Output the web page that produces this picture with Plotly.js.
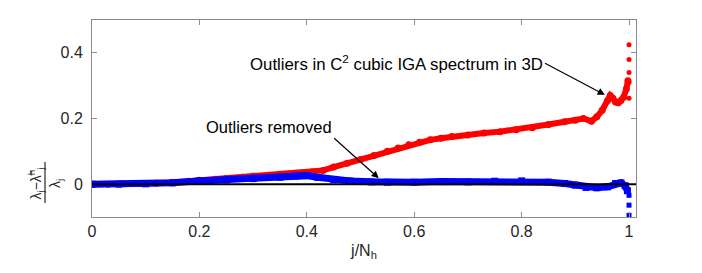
<!DOCTYPE html>
<html>
<head>
<meta charset="utf-8">
<script src="https://cdn.plot.ly/plotly-3.0.1.min.js"></script>
<style>html,body{margin:0;padding:0;background:#fff;}#chart{width:702px;height:273px;}</style>
</head>
<body>
<div id="chart"></div>
<script>
// Red: relative eigenvalue error with outliers (C2 cubic IGA, 3D)
const redX = [0, 0.03, 0.06, 0.09, 0.12, 0.15, 0.18, 0.20, 0.23, 0.25, 0.28, 0.30, 0.33, 0.35, 0.38, 0.40, 0.41, 0.43, 0.45, 0.475, 0.50, 0.525, 0.55, 0.57, 0.59, 0.61, 0.63, 0.65, 0.67, 0.70, 0.73, 0.76, 0.79, 0.82, 0.85, 0.88, 0.90, 0.915, 0.93, 0.94, 0.95, 0.96, 0.965, 0.97, 0.975, 0.98, 0.985, 0.99, 0.995, 0.998];
const redY = [0, 0.000, 0.001, 0.002, 0.003, 0.005, 0.009, 0.012, 0.015, 0.017, 0.021, 0.024, 0.027, 0.030, 0.033, 0.035, 0.037, 0.042, 0.052, 0.064, 0.075, 0.087, 0.100, 0.110, 0.120, 0.128, 0.135, 0.140, 0.145, 0.150, 0.156, 0.160, 0.166, 0.172, 0.182, 0.190, 0.195, 0.200, 0.192, 0.205, 0.225, 0.255, 0.270, 0.262, 0.250, 0.248, 0.255, 0.265, 0.290, 0.315];
const redOutX = [1.0, 1.0, 1.0, 1.0, 1.0];
const redOutY = [0.425, 0.380, 0.340, 0.310, 0.262];

// Blue: relative eigenvalue error with outliers removed
const blueX = [0, 0.05, 0.10, 0.15, 0.20, 0.25, 0.30, 0.35, 0.38, 0.40, 0.42, 0.45, 0.48, 0.52, 0.55, 0.60, 0.65, 0.70, 0.75, 0.80, 0.85, 0.88, 0.90, 0.92, 0.94, 0.96, 0.975, 0.985, 0.993, 0.997];
const blueY = [0, 0.000, 0.001, 0.004, 0.010, 0.013, 0.017, 0.021, 0.025, 0.026, 0.021, 0.014, 0.010, 0.007, 0.006, 0.006, 0.008, 0.007, 0.009, 0.010, 0.006, 0.002, -0.003, -0.010, -0.011, -0.008, 0.002, 0.004, -0.005, -0.020];
const blueOutX = [1.0, 1.0, 1.0];
const blueOutY = [-0.034, -0.064, -0.095];

const xTicks = [0, 0.2, 0.4, 0.6, 0.8, 1];
const xTickText = ['0', '0.2', '0.4', '0.6', '0.8', '1'];
const yTicks = [0, 0.2, 0.4];
const yTickText = ['0', '0.2', '0.4'];

const red = '#ff0000', blue = '#0000ff';
const traces = [
  {x: redX, y: redY, mode: 'lines+markers', line: {color: red, width: 6}, marker: {color: red, size: 7, symbol: 'circle'}, hoverinfo: 'skip'},
  {x: redOutX, y: redOutY, mode: 'markers', marker: {color: red, size: 5, symbol: 'circle'}, hoverinfo: 'skip'},
  {x: blueX, y: blueY, mode: 'lines+markers', line: {color: blue, width: 7}, marker: {color: blue, size: 7, symbol: 'square'}, hoverinfo: 'skip'},
  {x: blueOutX, y: blueOutY, mode: 'markers', marker: {color: blue, size: 5, symbol: 'square'}, hoverinfo: 'skip'}
];

const axisCommon = {
  showgrid: false, zeroline: false, showline: true, linecolor: '#8c8c8c', linewidth: 1,
  mirror: 'ticks', ticks: 'inside', ticklen: 5, tickcolor: '#8c8c8c', tickwidth: 1,
  tickfont: {size: 16, color: '#262626'}
};

const layout = {
  width: 702, height: 273,
  margin: {l: 92, r: 66, t: 20, b: 56},
  paper_bgcolor: '#fff', plot_bgcolor: '#fff',
  font: {family: 'Liberation Sans, Arial, sans-serif', size: 16, color: '#262626'},
  showlegend: false,
  xaxis: Object.assign({}, axisCommon, {
    range: [0, 1.013], tickvals: xTicks, ticktext: xTickText,
    title: {text: 'j/N<sub>h</sub>', font: {size: 16, color: '#262626'}, standoff: 5}
  }),
  yaxis: Object.assign({}, axisCommon, {
    range: [-0.1, 0.5], tickvals: yTicks, ticktext: yTickText, ticklabelstandoff: 5
  }),
  shapes: [
    {type: 'line', xref: 'paper', yref: 'y', x0: 0, x1: 1, y0: 0, y1: 0, line: {color: '#000', width: 2}, layer: 'above'},
    {type: 'line', xref: 'paper', yref: 'paper', x0: -0.0864, x1: -0.0864, y0: 0.071, y1: 0.279, line: {color: '#262626', width: 1.2}}
  ],
  annotations: [
    {xref: 'x', yref: 'y', x: 0.955, y: 0.272, axref: 'x', ayref: 'y', ax: 0.8436, ay: 0.368, xanchor: 'right', yanchor: 'middle',
     text: 'Outliers in C<sup>2</sup> cubic IGA spectrum in 3D', showarrow: true, arrowhead: 2, arrowsize: 1.2, arrowwidth: 1.2, arrowcolor: '#000', font: {size: 16.8, color: '#000'}},
    {xref: 'x', yref: 'y', x: 0.534, y: 0.018, axref: 'x', ayref: 'y', ax: 0.451, ay: 0.140, xanchor: 'right', yanchor: 'bottom',
     text: 'Outliers removed', showarrow: true, arrowhead: 2, arrowsize: 1.2, arrowwidth: 1.2, arrowcolor: '#000', font: {size: 16.5, color: '#000'}},
    {xref: 'paper', yref: 'paper', x: -0.0864, y: 0.17, xanchor: 'center', yanchor: 'middle', text: 'λ<sub>j</sub>−λ̃<sup>h</sup><sub>j</sub><br>λ<sub>j</sub>', textangle: -90, showarrow: false, font: {size: 14, color: '#262626'}}
  ]
};

Plotly.newPlot('chart', traces, layout, {displayModeBar: false, staticPlot: true});
</script>
</body>
</html>
